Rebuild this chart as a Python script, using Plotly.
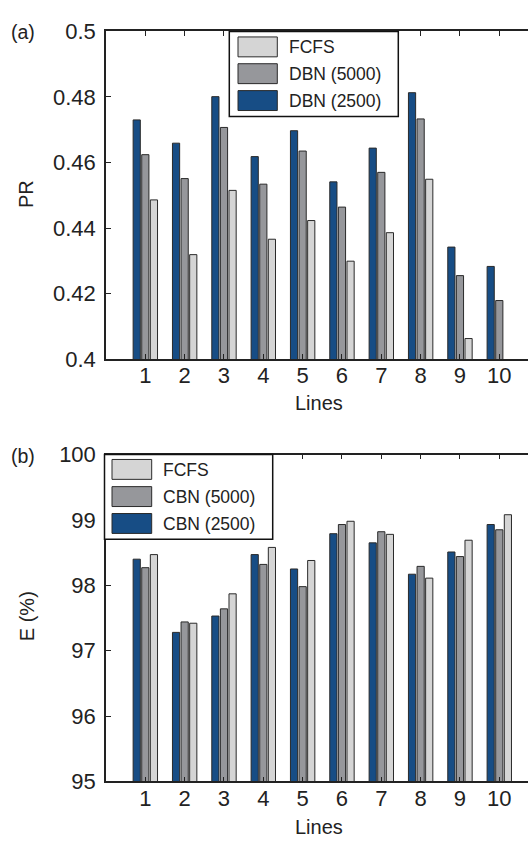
import plotly.graph_objects as go

lines = [1, 2, 3, 4, 5, 6, 7, 8, 9, 10]

# (a) PR
pr_dbn2500 = [0.4730, 0.4659, 0.4801, 0.4618, 0.4697, 0.4541, 0.4644, 0.4813, 0.4342, 0.4283]
pr_dbn5000 = [0.4624, 0.4551, 0.4707, 0.4534, 0.4635, 0.4464, 0.4570, 0.4733, 0.4255, 0.4179]
pr_fcfs = [0.4486, 0.4319, 0.4515, 0.4366, 0.4423, 0.4299, 0.4386, 0.4549, 0.4063, None]

# (b) E (%)
e_cbn2500 = [98.40, 97.28, 97.53, 98.47, 98.25, 98.79, 98.65, 98.17, 98.51, 98.93]
e_cbn5000 = [98.27, 97.44, 97.64, 98.32, 97.98, 98.93, 98.82, 98.29, 98.44, 98.85]
e_fcfs = [98.47, 97.42, 97.87, 98.58, 98.38, 98.98, 98.78, 98.11, 98.69, 99.08]

names_a = ["DBN (2500)", "DBN (5000)", "FCFS"]
names_b = ["CBN (2500)", "CBN (5000)", "FCFS"]
colors = ["#174d85", "#96979b", "#d5d5d5"]
OUTLINE = "#2a2a2a"
TXT = "#222222"
FONT = "Liberation Sans, Arial, sans-serif"
TICK = 22

W, H = 528, 851


def px(x):
    return x / W


def py(y):
    return 1 - y / H


fig = go.Figure()

series_a = [pr_dbn2500, pr_dbn5000, pr_fcfs]
series_b = [e_cbn2500, e_cbn5000, e_fcfs]
for vals, name, col in zip(series_a, names_a, colors):
    fig.add_trace(go.Bar(x=lines, y=vals, name=name, marker=dict(color=col, line=dict(color=OUTLINE, width=1)),
                         xaxis="x", yaxis="y", showlegend=False))
for vals, name, col in zip(series_b, names_b, colors):
    fig.add_trace(go.Bar(x=lines, y=vals, name=name, marker=dict(color=col, line=dict(color=OUTLINE, width=1)),
                         xaxis="x2", yaxis="y2", showlegend=False))

xcommon = dict(range=[0, 10.73], tickvals=lines, showline=True, linecolor=TXT, linewidth=1.5,
               mirror="ticks", ticks="inside", ticklen=5, tickcolor=TXT, showgrid=False, zeroline=False,
               tickfont=dict(size=TICK, color=TXT, family=FONT), ticklabelstandoff=-4)
ycommon = dict(showline=True, linecolor=TXT, linewidth=1.5, ticks="inside", ticklen=5, tickcolor=TXT,
               showgrid=False, zeroline=False, tickfont=dict(size=TICK, color=TXT, family=FONT),
               ticklabelstandoff=4)

fig.update_layout(
    width=W, height=H, margin=dict(l=0, r=0, t=0, b=0),
    paper_bgcolor="white", plot_bgcolor="white",
    barmode="group", bargap=0.344, bargroupgap=0.164,
    font=dict(family=FONT, color=TXT),
    xaxis=dict(domain=[px(106), 1], anchor="y", **xcommon),
    yaxis=dict(domain=[py(357.7), py(20)], anchor="x", range=[0.4, 0.5],
               tickvals=[0.4, 0.42, 0.44, 0.46, 0.48, 0.5], ticktext=["0.4", "0.42", "0.44", "0.46", "0.48", "0.5"],
               **ycommon),
    xaxis2=dict(domain=[px(106), 1], anchor="y2", **xcommon),
    yaxis2=dict(domain=[py(792.7), py(456)], anchor="x2", range=[95, 100],
                tickvals=[95, 96, 97, 98, 99, 100], **ycommon),
)

shapes = []
annotations = []


def legend(box, swatch_x, swatch_tops, text_x, labels):
    x0, y0, x1, y1 = box
    shapes.append(dict(type="rect", xref="paper", yref="paper", x0=px(x0), x1=px(x1), y0=py(y1), y1=py(y0),
                       line=dict(color="#111111", width=1.5), fillcolor="white", layer="above"))
    for top, (lab, col) in zip(swatch_tops, labels):
        shapes.append(dict(type="rect", xref="paper", yref="paper", x0=px(swatch_x[0]), x1=px(swatch_x[1]),
                           y0=py(top + 20.5), y1=py(top), line=dict(color=OUTLINE, width=1), fillcolor=col,
                           layer="above"))
        annotations.append(dict(xref="paper", yref="paper", x=px(text_x), y=py(top + 10.5), text=lab,
                                showarrow=False, xanchor="left", yanchor="middle",
                                font=dict(size=17.5, color=TXT, family=FONT)))


legend((229.3, 20, 398.3, 107.7), (238, 277.3), [25.7, 53.3, 81], 287,
       [("FCFS", colors[2]), ("DBN (5000)", colors[1]), ("DBN (2500)", colors[0])])
legend((104.5, 456, 272.7, 543.3), (112, 151.7), [461, 489, 516.7], 161,
       [("FCFS", colors[2]), ("CBN (5000)", colors[1]), ("CBN (2500)", colors[0])])

# panel labels and axis titles
for txt, x, y in [("(a)", 23, 21), ("(b)", 23, 457)]:
    annotations.append(dict(xref="paper", yref="paper", x=px(x), y=py(y), text=txt, showarrow=False,
                            xanchor="center", yanchor="middle", font=dict(size=19.5, color=TXT, family=FONT)))
for txt, y in [("Lines", 403), ("Lines", 840)]:
    annotations.append(dict(xref="paper", yref="paper", x=px(319), y=py(y), text=txt, showarrow=False,
                            xanchor="center", yanchor="middle", font=dict(size=20, color=TXT, family=FONT)))
for txt, y in [("PR", 188), ("E (%)", 623)]:
    annotations.append(dict(xref="paper", yref="paper", x=px(26.5), y=py(y), text=txt, showarrow=False,
                            textangle=-90, xanchor="center", yanchor="middle",
                            font=dict(size=20, color=TXT, family=FONT)))

fig.update_layout(shapes=shapes, annotations=annotations)
fig.write_html("out.html")
